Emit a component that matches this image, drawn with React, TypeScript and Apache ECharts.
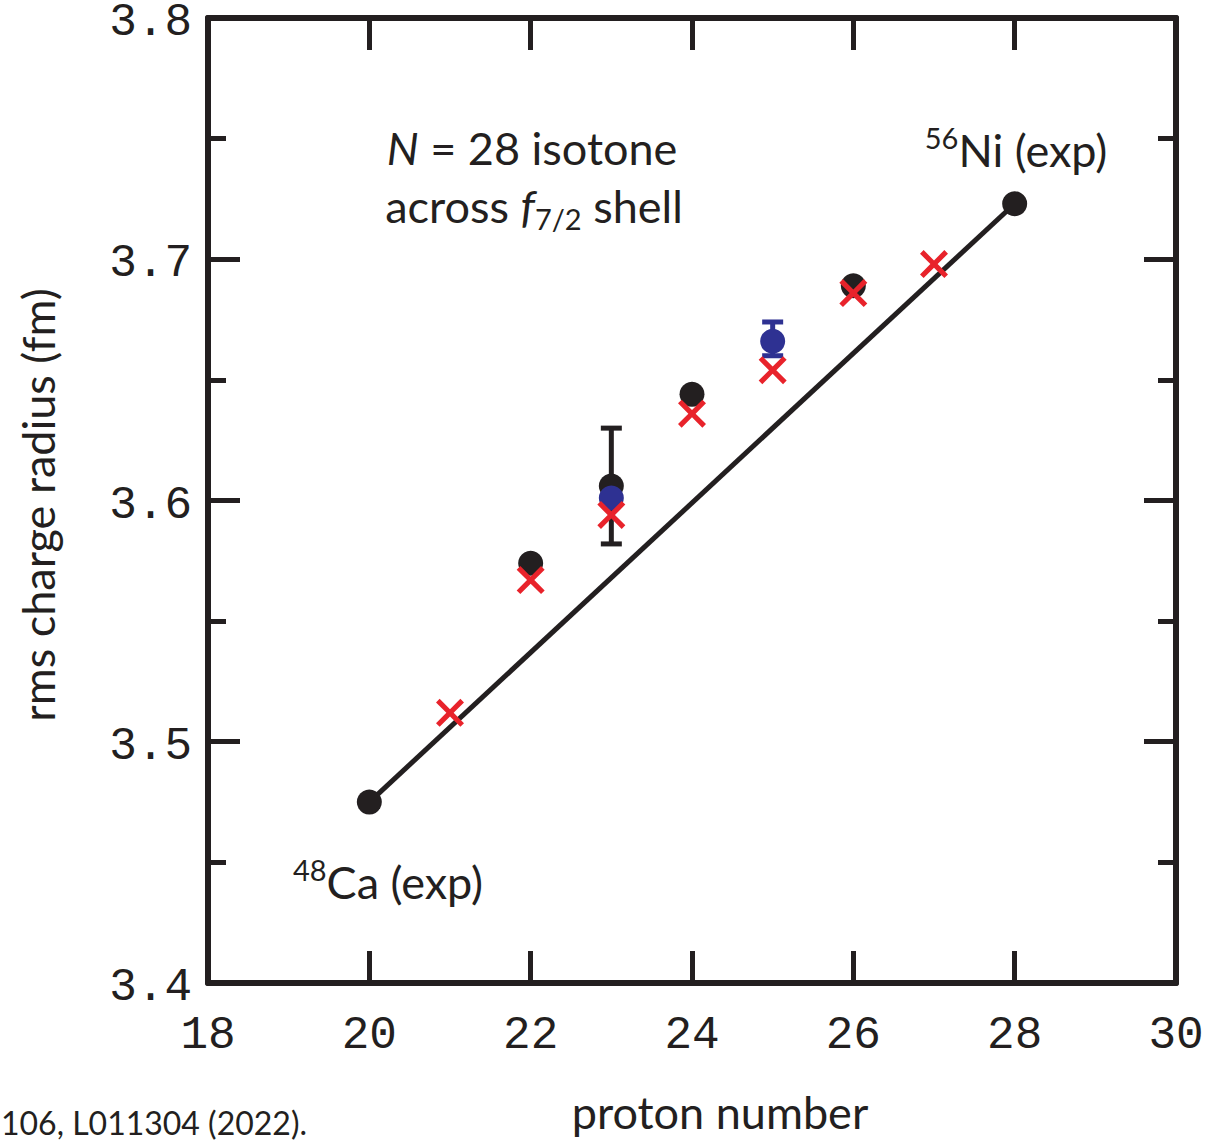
import React, { useEffect, useRef } from "react";
import * as echarts from "echarts";

// Experimental charge radii of the N = 28 isotones (black)
const expZ = [20, 22, 23, 24, 26, 28];
const expRadius = [3.475, 3.574, 3.606, 3.644, 3.689, 3.723];
// Experimental error bar (Z = 23)
const expErrZ = [23];
const expErrLow = [3.582];
const expErrHigh = [3.63];

// New measurements (blue)
const newZ = [23, 25];
const newRadius = [3.601, 3.666];
const newErrZ = [25];
const newErrLow = [3.66];
const newErrHigh = [3.674];

// Calculated radii (red crosses)
const calcZ = [21, 22, 23, 24, 25, 26, 27];
const calcRadius = [3.512, 3.567, 3.594, 3.636, 3.654, 3.686, 3.698];

// Axis ranges and tick labels
const xTicks = [18, 20, 22, 24, 26, 28, 30];
const yTicks = [3.4, 3.5, 3.6, 3.7, 3.8];

const INK = "#231f20";
const RED = "#e8232b";
const BLUE = "#2e3192";
const MONO = "'Liberation Mono', 'DejaVu Sans Mono', monospace";
const SANS = "Lato, 'Open Sans', sans-serif";
const FS = 45;
const FS_SMALL = 29;

// Filled X-shaped marker
const CROSS =
  "path://M13,0 L50,37 L87,0 L100,13 L63,50 L100,87 L87,100 L50,63 L13,100 L0,87 L37,50 L0,13 Z";

const errorBar = (color: string) => (params: any, api: any) => {
  const x = api.value(0);
  const lo = api.coord([x, api.value(1)]);
  const hi = api.coord([x, api.value(2)]);
  const w = 10.5;
  const style = { stroke: color, lineWidth: 5 };
  return {
    type: "group",
    children: [
      { type: "line", shape: { x1: lo[0], y1: lo[1], x2: hi[0], y2: hi[1] }, style },
      { type: "line", shape: { x1: hi[0] - w, y1: hi[1], x2: hi[0] + w, y2: hi[1] }, style },
      { type: "line", shape: { x1: lo[0] - w, y1: lo[1], x2: lo[0] + w, y2: lo[1] }, style },
    ],
  };
};

const normal = { fontFamily: SANS, fontSize: FS, fill: INK, lineHeight: 54 };
const italic = { ...normal, fontStyle: "italic" };
const sub = { fontFamily: SANS, fontSize: FS_SMALL, fill: INK, lineHeight: 22, verticalAlign: "bottom" };
const sup = { fontFamily: SANS, fontSize: FS_SMALL, fill: INK, lineHeight: 22, verticalAlign: "top" };

export default function App() {
  const ref = useRef<HTMLDivElement>(null);

  useEffect(() => {
    if (!ref.current) return;
    const chart = echarts.init(ref.current, null, { renderer: "svg" });

    const xMin = xTicks[0];
    const xMax = xTicks[xTicks.length - 1];
    const yMin = yTicks[0];
    const yMax = yTicks[yTicks.length - 1];

    const axisLine = { show: true, lineStyle: { color: INK, width: 6 } };
    const majorTick = { show: true, inside: true, length: 32, lineStyle: { color: INK, width: 5 } };
    const minorTick = { show: true, splitNumber: 2, length: 18, lineStyle: { color: INK, width: 5 } };

    const lineEnds = [0, expZ.length - 1].map((i) => [expZ[i], expRadius[i]]);

    chart.setOption({
      animation: false,
      backgroundColor: "#ffffff",
      grid: { left: 208, right: 30, top: 18, bottom: 157, outerBoundsMode: "none" },
      xAxis: [
        {
          type: "value",
          position: "bottom",
          min: xMin,
          max: xMax,
          interval: 2,
          axisLine,
          axisTick: majorTick,
          splitLine: { show: false },
          axisLabel: {
            show: true,
            margin: 30,
            fontFamily: MONO,
            fontSize: 46,
            color: INK,
            formatter: (v: number) => String(v),
          },
        },
        {
          type: "value",
          position: "top",
          min: xMin,
          max: xMax,
          interval: 2,
          axisLine,
          axisTick: majorTick,
          splitLine: { show: false },
          axisLabel: { show: false },
        },
      ],
      yAxis: [
        {
          type: "value",
          position: "left",
          min: yMin,
          max: yMax,
          interval: 0.1,
          axisLine,
          axisTick: majorTick,
          minorTick,
          splitLine: { show: false },
          axisLabel: {
            show: true,
            margin: 16,
            color: INK,
            formatter: (v: number) => `{v|${v.toFixed(1)}}`,
            rich: {
              v: {
                fontFamily: MONO,
                fontSize: 46,
                color: INK,
                lineHeight: 20,
                padding: [10, 0, 0, 0],
              },
            },
          },
        },
        {
          type: "value",
          position: "right",
          min: yMin,
          max: yMax,
          interval: 0.1,
          axisLine,
          axisTick: majorTick,
          minorTick,
          splitLine: { show: false },
          axisLabel: { show: false },
        },
      ],
      series: [
        {
          type: "line",
          data: lineEnds,
          showSymbol: false,
          symbol: "none",
          lineStyle: { color: INK, width: 5 },
          z: 2,
        },
        {
          type: "custom",
          renderItem: errorBar(INK),
          encode: { x: 0, y: [1, 2] },
          data: expErrZ.map((z, i) => [z, expErrLow[i], expErrHigh[i]]),
          z: 3,
        },
        {
          type: "scatter",
          data: expZ.map((z, i) => [z, expRadius[i]]),
          symbol: "circle",
          symbolSize: 25,
          itemStyle: { color: INK, opacity: 1 },
          z: 4,
        },
        {
          type: "custom",
          renderItem: errorBar(BLUE),
          encode: { x: 0, y: [1, 2] },
          data: newErrZ.map((z, i) => [z, newErrLow[i], newErrHigh[i]]),
          z: 5,
        },
        {
          type: "scatter",
          data: newZ.map((z, i) => [z, newRadius[i]]),
          symbol: "circle",
          symbolSize: 25,
          itemStyle: { color: BLUE, opacity: 1 },
          z: 6,
        },
        {
          type: "scatter",
          data: calcZ.map((z, i) => [z, calcRadius[i]]),
          symbol: CROSS,
          symbolSize: 28,
          itemStyle: { color: RED, opacity: 1 },
          z: 7,
        },
      ],
      graphic: [
        {
          type: "text",
          x: 532,
          y: 148,
          style: {
            text: "{i|N}{n| = 28 isotone}",
            align: "center",
            verticalAlign: "middle",
            fill: INK,
            rich: { i: italic, n: normal },
          },
        },
        {
          type: "text",
          x: 534,
          y: 206,
          style: {
            text: "{n|across }{i|f}{s|7/2}{n| shell}",
            align: "center",
            verticalAlign: "middle",
            fill: INK,
            rich: { n: normal, i: italic, s: sub },
          },
        },
        {
          type: "text",
          x: 1016,
          y: 150,
          style: {
            text: "{s|56}{n|Ni (exp)}",
            align: "center",
            verticalAlign: "middle",
            fill: INK,
            rich: { s: sup, n: normal },
          },
        },
        {
          type: "text",
          x: 388,
          y: 882,
          style: {
            text: "{s|48}{n|Ca (exp)}",
            align: "center",
            verticalAlign: "middle",
            fill: INK,
            rich: { s: sup, n: normal },
          },
        },
        {
          type: "text",
          x: 720,
          y: 1112,
          style: {
            text: "proton number",
            fontFamily: SANS,
            fontSize: FS,
            fill: INK,
            align: "center",
            verticalAlign: "middle",
          },
        },
        {
          type: "text",
          x: 38,
          y: 505,
          rotation: Math.PI / 2,
          style: {
            text: "rms charge radius (fm)",
            fontFamily: SANS,
            fontSize: FS,
            fill: INK,
            align: "center",
            verticalAlign: "middle",
          },
        },
        {
          type: "text",
          x: 1,
          y: 1122,
          style: {
            text: "106, L011304 (2022).",
            fontFamily: SANS,
            fontSize: 32,
            fill: INK,
            align: "left",
            verticalAlign: "middle",
          },
        },
      ],
    });

    return () => chart.dispose();
  }, []);

  return (
    <div
      ref={ref}
      style={{ position: "fixed", left: 0, top: 0, width: 1206, height: 1140, background: "#fff" }}
    />
  );
}
